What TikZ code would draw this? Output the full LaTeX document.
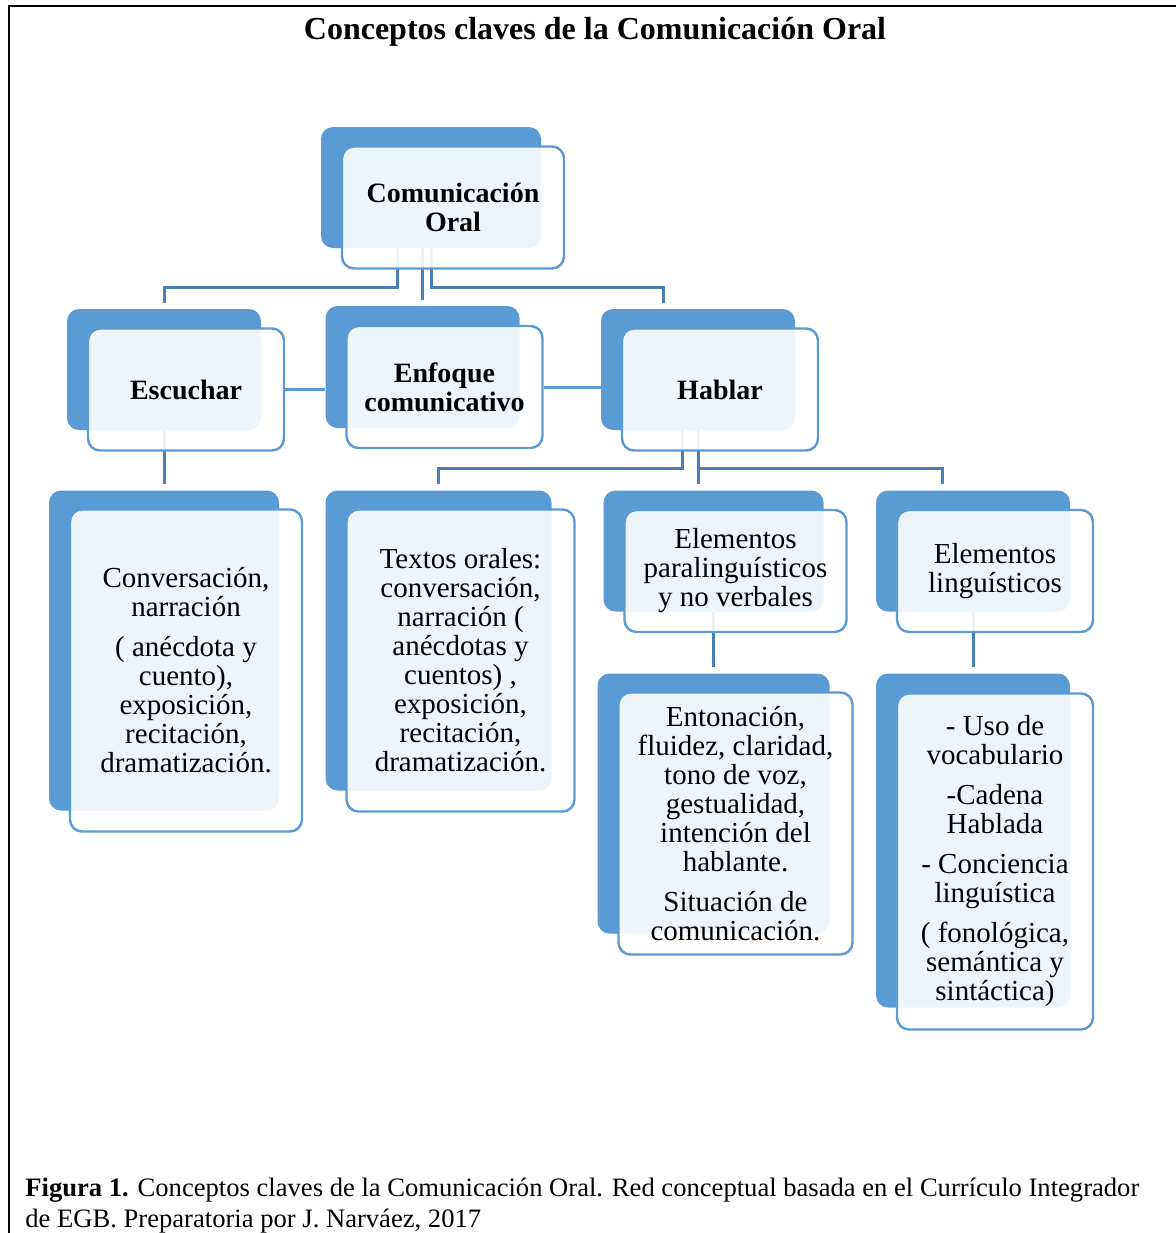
\documentclass[tikz,border=0pt]{standalone}
\usepackage{fontspec}
\setmainfont{Liberation Serif}
\usetikzlibrary{positioning,backgrounds}
\definecolor{boxblue}{HTML}{5B9BD5}
\definecolor{linkblue}{HTML}{4A7EBB}
\tikzset{
  boxsize/.style 2 args={minimum width=#1, minimum height=#2},
  backbox/.style={fill=boxblue, rounded corners=6pt, inner sep=0pt},
  frontbox/.style={draw=boxblue, line width=1.2pt, fill=white, fill opacity=0.9, text opacity=1,
    rounded corners=6pt, inner sep=0pt, align=center, font=\fontsize{14.5}{14.5}\selectfont},
  headbox/.style={frontbox, font=\fontsize{14}{14.5}\selectfont\bfseries},
  link/.style={linkblue, line width=1.5pt},
  sidelink/.style={boxblue, line width=1.5pt},
}
\begin{document}
\begin{tikzpicture}[x=0.5pt,y=-0.5pt]
    \useasboundingbox (0,0) rectangle (1176,1233);
    \draw[line width=1.2pt] (9,1233) -- (9,6) -- (1176,6);
    \node[font=\fontsize{16}{19}\selectfont\bfseries, anchor=base] (title) at (595,39) {Conceptos claves de la Comunicación Oral};

    \node[backbox, boxsize={110pt}{60.5pt}] (com-b) at (431,187.5) {};
    \node[headbox, boxsize={111pt}{61pt}] (com) at ([shift={(22,20)}]com-b.center) {Comunicación\\Oral};

    \node[backbox, boxsize={97pt}{60.5pt}] (esc-b) at (164,369.5) {};
    \node[headbox, boxsize={98pt}{61pt}] (esc) at ([shift={(22,20)}]esc-b.center) {Escuchar};
    \node[backbox, boxsize={97pt}{61pt}] (enf-b) at (422.5,367) {};
    \node[headbox, boxsize={98pt}{61pt}] (enf) at ([shift={(22,20)}]enf-b.center) {Enfoque\\comunicativo};
    \node[backbox, boxsize={97pt}{60.5pt}] (hab-b) at (698,369.5) {};
    \node[headbox, boxsize={98pt}{61pt}] (hab) at ([shift={(22,20)}]hab-b.center) {Hablar};

    \node[backbox, boxsize={115pt}{160pt}] (conv-b) at (164,650.5) {};
    \node[frontbox, boxsize={116pt}{161pt}] (conv) at ([shift={(22,20)}]conv-b.center) {Conversación,\\narración\\[5.5pt]( anécdota y\\cuento),\\exposición,\\recitación,\\dramatización.};
    \node[backbox, boxsize={113pt}{150pt}] (text-b) at (438.5,640.5) {};
    \node[frontbox, boxsize={114pt}{151pt}] (text) at ([shift={(22,20)}]text-b.center) {Textos orales:\\conversación,\\narración (\\anécdotas y\\cuentos) ,\\exposición,\\recitación,\\dramatización.};
    \node[backbox, boxsize={110pt}{60.5pt}] (para-b) at (713.5,551) {};
    \node[frontbox, boxsize={111pt}{61pt}] (para) at ([shift={(22,20)}]para-b.center) {Elementos\\paralinguísticos\\y no verbales};
    \node[backbox, boxsize={97pt}{60.5pt}] (ling-b) at (973,551) {};
    \node[frontbox, boxsize={98pt}{61pt}] (ling) at ([shift={(22,20)}]ling-b.center) {Elementos\\linguísticos};

    \node[backbox, boxsize={116pt}{130pt}] (ento-b) at (713.5,803.5) {};
    \node[frontbox, boxsize={117pt}{131pt}] (ento) at ([shift={(22,20)}]ento-b.center) {Entonación,\\fluidez, claridad,\\tono de voz,\\gestualidad,\\intención del\\hablante.\\[5.5pt]Situación de\\comunicación.};
    \node[backbox, boxsize={97pt}{167pt}] (uso-b) at (973,840.5) {};
    \node[frontbox, boxsize={98pt}{168pt}] (uso) at ([shift={(22,21)}]uso-b.center) {- Uso de\\vocabulario\\[5.5pt]-Cadena\\Hablada\\[5.5pt]- Conciencia\\linguística\\[5.5pt]( fonológica,\\semántica y\\sintáctica)};

    \begin{pgfonlayer}{background}
    \draw[link] ([xshift=-17pt]com-b.south) -- ++(0,39) -| ([yshift=3pt]esc-b.north);
    \draw[link] (enf-b.north |- com-b.south) -- ([yshift=3pt]enf-b.north);
    \draw[link] (com-b.south) -- ++(0,39) -| ([xshift=-17.5pt,yshift=3pt]hab-b.north);
    \draw[sidelink] (esc.east) -- (esc.east -| enf-b.west);
    \draw[sidelink] (enf.east) -- (enf.east -| hab-b.west);
    \draw[link] (esc-b.south) -- ([yshift=3pt]conv-b.north);
    \draw[link] ([xshift=-8pt]hab-b.south) -- ++(0,38) -| ([yshift=3pt]text-b.north);
    \draw[link] (hab-b.south) -- ++(0,54);
    \draw[link] (hab-b.south) ++(0,38) -| ([xshift=-15.5pt,yshift=3pt]ling-b.north);
    \draw[link] (para-b.south) -- ([yshift=3pt]ento-b.north);
    \draw[link] (ling-b.south) -- ([yshift=3pt]uso-b.north);
    \end{pgfonlayer}

    \node[font=\fontsize{13.3}{15.5}\selectfont, align=left, anchor=north west, inner sep=0pt] (caption) at (25,1178) {\textbf{Figura 1.} Conceptos claves de la Comunicación Oral. Red conceptual basada en el Currículo Integrador\\de EGB. Preparatoria por J. Narváez, 2017};
\end{tikzpicture}
\end{document}
